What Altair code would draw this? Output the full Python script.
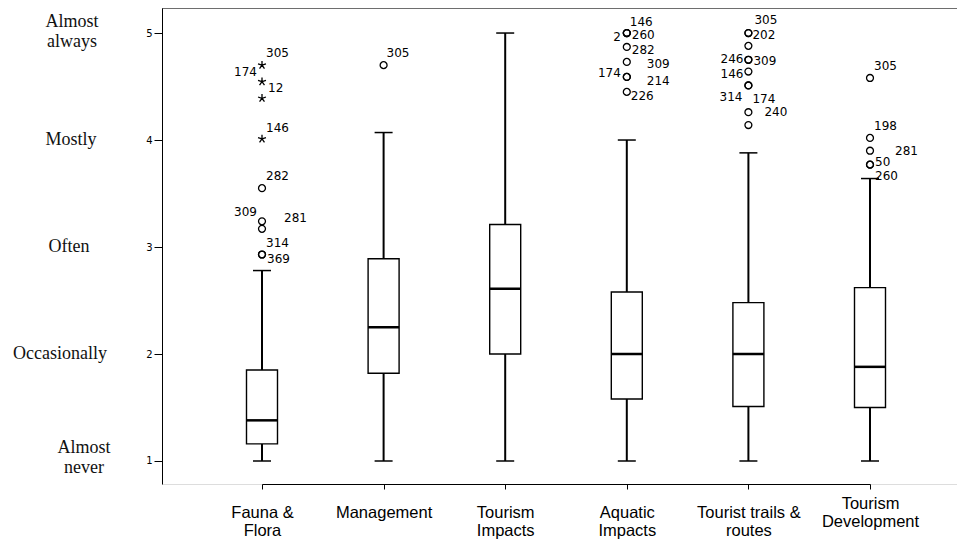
import altair as alt
import pandas as pd

# ---------------- data ----------------
categories = ["Fauna & Flora", "Management", "Tourism Impacts",
              "Aquatic Impacts", "Tourist trails & routes", "Tourism Development"]
category_lines = [["Fauna &", "Flora"], ["Management"], ["Tourism", "Impacts"],
                  ["Aquatic", "Impacts"], ["Tourist trails &", "routes"], ["Tourism", "Development"]]

whisker_low = [1.0, 1.0, 1.0, 1.0, 1.0, 1.0]
q1 = [1.16, 1.82, 2.0, 1.58, 1.51, 1.50]
median = [1.38, 2.25, 2.61, 2.0, 2.0, 1.88]
q3 = [1.85, 2.89, 3.21, 2.58, 2.48, 2.62]
whisker_high = [2.78, 4.07, 5.0, 4.0, 3.88, 3.64]

fauna_outliers = [3.55, 3.24, 3.17, 2.93, 2.93]
fauna_outlier_ids = ["282", "309", "281", "314", "369"]
fauna_extremes = [4.70, 4.545, 4.39, 4.01]
fauna_extreme_ids = ["305", "174", "12", "146"]
management_outliers = [4.70]
management_outlier_ids = ["305"]
aquatic_outliers = [5.0, 5.0, 5.0, 4.87, 4.73, 4.59, 4.59, 4.45]
aquatic_outlier_ids = ["146", "2", "260", "282", "309", "174", "214", "226"]
trails_outliers = [5.0, 5.0, 4.88, 4.75, 4.75, 4.64, 4.51, 4.51, 4.26, 4.14]
trails_outlier_ids = ["305", "202", "", "246", "309", "146", "314", "174", "240", ""]
development_outliers = [4.58, 4.02, 3.90, 3.77, 3.77]
development_outlier_ids = ["305", "198", "281", "50", "260"]

scale_values = [1, 2, 3, 4, 5]
scale_labels = ["Almost never", "Occasionally", "Often", "Mostly", "Almost always"]

# ---------------- styling / annotation placement ----------------
W, H = 795, 476
LABEL_FONT = "DejaVu Sans"
# (dx, dy, align) of each case-number label relative to its point
placement = {
    ("Fauna & Flora", "305"): (4, -12, "left"),
    ("Fauna & Flora", "174"): (-5, -10, "right"),
    ("Fauna & Flora", "12"): (6, -10, "left"),
    ("Fauna & Flora", "146"): (4, -11, "left"),
    ("Fauna & Flora", "282"): (4, -12, "left"),
    ("Fauna & Flora", "309"): (-5, -9, "right"),
    ("Fauna & Flora", "281"): (22, -11, "left"),
    ("Fauna & Flora", "314"): (4, -12, "left"),
    ("Fauna & Flora", "369"): (5, 4, "left"),
    ("Management", "305"): (3, -12, "left"),
    ("Aquatic Impacts", "146"): (3, -11, "left"),
    ("Aquatic Impacts", "2"): (-6, 4, "right"),
    ("Aquatic Impacts", "260"): (5, 2, "left"),
    ("Aquatic Impacts", "282"): (5, 3, "left"),
    ("Aquatic Impacts", "309"): (20, 2, "left"),
    ("Aquatic Impacts", "174"): (-6, -4, "right"),
    ("Aquatic Impacts", "214"): (20, 4, "left"),
    ("Aquatic Impacts", "226"): (4, 4, "left"),
    ("Tourist trails & routes", "305"): (6, -13, "left"),
    ("Tourist trails & routes", "202"): (4, 2, "left"),
    ("Tourist trails & routes", "246"): (-5, -1, "right"),
    ("Tourist trails & routes", "309"): (5, 1, "left"),
    ("Tourist trails & routes", "146"): (-5, 2, "right"),
    ("Tourist trails & routes", "314"): (-6, 12, "right"),
    ("Tourist trails & routes", "174"): (4, 14, "left"),
    ("Tourist trails & routes", "240"): (16, 0, "left"),
    ("Tourism Development", "305"): (4, -12, "left"),
    ("Tourism Development", "198"): (4, -12, "left"),
    ("Tourism Development", "281"): (25, 0, "left"),
    ("Tourism Development", "50"): (5, -3, "left"),
    ("Tourism Development", "260"): (5, 11, "left"),
}
# (x, dy) of the verbal scale labels left of the axis
left_label_pos = {"Almost never": (-78, -13), "Occasionally": (-102, 0), "Often": (-93, 0),
                  "Mostly": (-91, 0), "Almost always": (-90, -11)}

# ---------------- tables ----------------
boxes = pd.DataFrame({"category": categories, "low": whisker_low, "q1": q1,
                      "median": median, "q3": q3, "high": whisker_high})

rows = []
def add(cat, vals, ids, kind):
    for v, i in zip(vals, ids):
        rows.append({"category": cat, "value": v, "case": i, "kind": kind})

add("Fauna & Flora", fauna_outliers, fauna_outlier_ids, "outlier")
add("Fauna & Flora", fauna_extremes, fauna_extreme_ids, "extreme")
add("Management", management_outliers, management_outlier_ids, "outlier")
add("Aquatic Impacts", aquatic_outliers, aquatic_outlier_ids, "outlier")
add("Tourist trails & routes", trails_outliers, trails_outlier_ids, "outlier")
add("Tourism Development", development_outliers, development_outlier_ids, "outlier")
points = pd.DataFrame(rows)

# ---------------- encodings ----------------
label_expr = ""
for c, lines in zip(categories, category_lines):
    arr = "[" + ",".join("'" + l + "'" for l in lines) + "]"
    label_expr += f"datum.value == '{c}' ? {arr} : "
label_expr += "datum.value"

x_enc = alt.X(
    "category:N", sort=categories,
    scale=alt.Scale(type="point", domain=categories, range=[100, 708], padding=0),
    axis=alt.Axis(title=None, labelExpr=label_expr, labelAngle=0, tickSize=5,
                  labelPadding=alt.condition("datum.value == 'Tourism Development'",
                                             alt.value(6), alt.value(15)),
                  labelFont="Liberation Sans", labelFontSize=16.5, labelLineHeight=18,
                  labelBaseline="top", labelColor="black", domainColor="black",
                  tickColor="black", labelLimit=200, grid=False),
)
y_scale = alt.Scale(domain=[0.785, 5.234], nice=False, zero=False)
y_axis = alt.Axis(values=scale_values, format="d", title=None, grid=False, tickSize=8,
                  tickColor="black", domainColor="black", labelFont=LABEL_FONT,
                  labelFontSize=10, labelColor="black", labelPadding=2)

whisk_lo = alt.Chart(boxes).mark_rule(color="black", strokeWidth=2).encode(
    x=x_enc, y=alt.Y("low:Q", scale=y_scale, axis=y_axis), y2="q1:Q")
whisk_hi = alt.Chart(boxes).mark_rule(color="black", strokeWidth=2).encode(
    x=x_enc, y=alt.Y("q3:Q"), y2="high:Q")
cap_lo = alt.Chart(boxes).mark_tick(color="black", size=18, thickness=1.5, opacity=1).encode(
    x=x_enc, y=alt.Y("low:Q"))
cap_hi = alt.Chart(boxes).mark_tick(color="black", size=18, thickness=1.5, opacity=1).encode(
    x=x_enc, y=alt.Y("high:Q"))
box = alt.Chart(boxes).mark_bar(size=31, fill="white", stroke="black", strokeWidth=1.4).encode(
    x=x_enc, y=alt.Y("q1:Q"), y2="q3:Q")
med = alt.Chart(boxes).mark_tick(color="black", size=31, thickness=2.5, opacity=1).encode(
    x=x_enc, y=alt.Y("median:Q"))

circles = alt.Chart(points).transform_filter("datum.kind == 'outlier'").mark_point(
    shape="circle", size=48, filled=False, color="black", strokeWidth=1.3, opacity=1).encode(
    x=x_enc, y=alt.Y("value:Q"))
star_path = "M0,0L0,-1M0,0L0.95,-0.31M0,0L0.59,0.81M0,0L-0.59,0.81M0,0L-0.95,-0.31"
stars = alt.Chart(points).transform_filter("datum.kind == 'extreme'").mark_point(
    shape=star_path, size=70, filled=False, color="black", strokeWidth=1.3, opacity=1).encode(
    x=x_enc, y=alt.Y("value:Q"))

layers = [whisk_lo, whisk_hi, cap_lo, cap_hi, box, med, circles, stars]

for _, r in points.iterrows():
    if not r["case"]:
        continue
    dx, dy, al = placement.get((r["category"], r["case"]), (4, -12, "left"))
    layers.append(
        alt.Chart(pd.DataFrame([r])).mark_text(
            font=LABEL_FONT, fontSize=12, color="black", dx=dx, dy=dy,
            align=al, baseline="middle").encode(
            x=x_enc, y=alt.Y("value:Q"), text="case:N"))

for v, lab in zip(scale_values, scale_labels):
    lx, ldy = left_label_pos[lab]
    layers.append(
        alt.Chart(pd.DataFrame({"value": [v], "lab": [lab]})).mark_text(
            font="Liberation Serif", fontSize=18, color="#111", lineBreak=" ",
            lineHeight=20, align="center", baseline="middle", dy=ldy).encode(
            x=alt.value(lx), y=alt.Y("value:Q"), text="lab:N"))

top_border = alt.Chart(pd.DataFrame({"a": [0]})).mark_rule(color="black", strokeWidth=1).encode(
    x=alt.value(0), x2=alt.value(W), y=alt.value(0))
layers.append(top_border)

chart = alt.layer(*layers).properties(
    width=W, height=H,
    autosize=alt.AutoSizeParams(type="none"),
    padding={"left": 154, "top": 0, "right": 0, "bottom": 57},
).configure_view(stroke="transparent").configure(background="white")

chart.save("out.html", embed_options={"renderer": "svg", "actions": False})
